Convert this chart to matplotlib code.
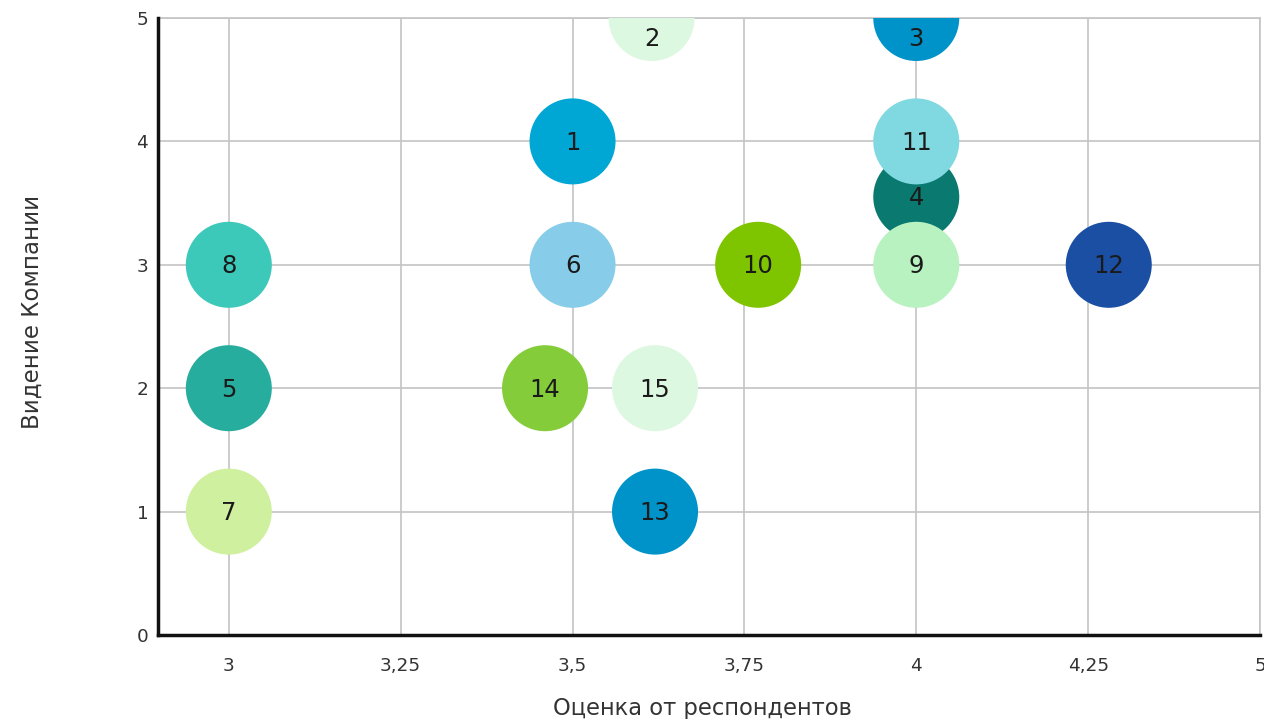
import matplotlib
matplotlib.use("Agg")
import matplotlib.pyplot as plt

# Data
labels = ["1", "2", "3", "4", "5", "6", "7", "8", "9", "10", "11", "12", "13", "14", "15"]
x_vals = [3.5, 3.615, 4.0, 4.0, 3.0, 3.5, 3.0, 3.0, 4.0, 3.77, 4.0, 4.28, 3.62, 3.46, 3.62]
y_vals = [4, 5, 5, 3.55, 2, 3, 1, 3, 3, 3, 4, 3, 1, 2, 2]
colors = ["#00A6D4", "#DDF8E0", "#0093C9", "#0A7A70", "#27AD9E", "#87CDE9", "#CFF09E",
          "#3CC9BA", "#B8F2C0", "#7EC500", "#80D8E0", "#1A4FA3", "#0093C9", "#85CC3A", "#DDF8E0"]
x_ticks = [3, 3.25, 3.5, 3.75, 4, 4.25, 4.5]
x_tick_labels = ["3", "3,25", "3,5", "3,75", "4", "4,25", "5"]
y_ticks = [0, 1, 2, 3, 4, 5]
y_tick_labels = ["0", "1", "2", "3", "4", "5"]
x_title = "Оценка от респондентов"
y_title = "Видение Компании"

W, H = 1264, 719
fig = plt.figure(figsize=(W / 100, H / 100), dpi=100)
ax = fig.add_axes([158 / W, 1 - 635 / H, (1260 - 158) / W, (635 - 18) / H])

xmin, xmax = 2.897, 4.5
ymin, ymax = 0, 5
ax.set_xlim(xmin, xmax)
ax.set_ylim(ymin, ymax)

ax.set_xticks(x_ticks)
ax.set_xticklabels(x_tick_labels)
ax.set_yticks(y_ticks)
ax.set_yticklabels(y_tick_labels)
ax.tick_params(axis="both", length=0, labelsize=13.3, colors="#333333")
ax.tick_params(axis="x", pad=16)
ax.tick_params(axis="y", pad=7)

ax.grid(True, color="#c4c4c4", linewidth=1.2, zorder=0)
ax.set_axisbelow(True)

for side in ["top", "right"]:
    ax.spines[side].set_color("#c4c4c4")
    ax.spines[side].set_linewidth(1.2)
for side in ["left", "bottom"]:
    ax.spines[side].set_color("#111111")
    ax.spines[side].set_linewidth(2.5)
    ax.spines[side].set_zorder(5)

radius_px = 43
s = (2 * radius_px * 0.72) ** 2
for xv, yv, c in zip(x_vals, y_vals, colors):
    ax.scatter([xv], [yv], s=s, color=c, edgecolors="none", zorder=3)

for lab, xv, yv in zip(labels, x_vals, y_vals):
    dy = -15 if yv >= ymax else -1
    ax.annotate(lab, (xv, yv), xytext=(0, dy), textcoords="offset points",
                ha="center", va="center", fontsize=17.5, color="#1a1a1a", zorder=4,
                annotation_clip=False)

fig.text(702 / W, 1 - 708 / H, x_title, ha="center", va="center", fontsize=16.3, color="#333333")
fig.text(32 / W, 1 - 312 / H, y_title, ha="center", va="center", rotation=90,
         fontsize=16.5, color="#333333")

fig.savefig("out.png", dpi=100)
